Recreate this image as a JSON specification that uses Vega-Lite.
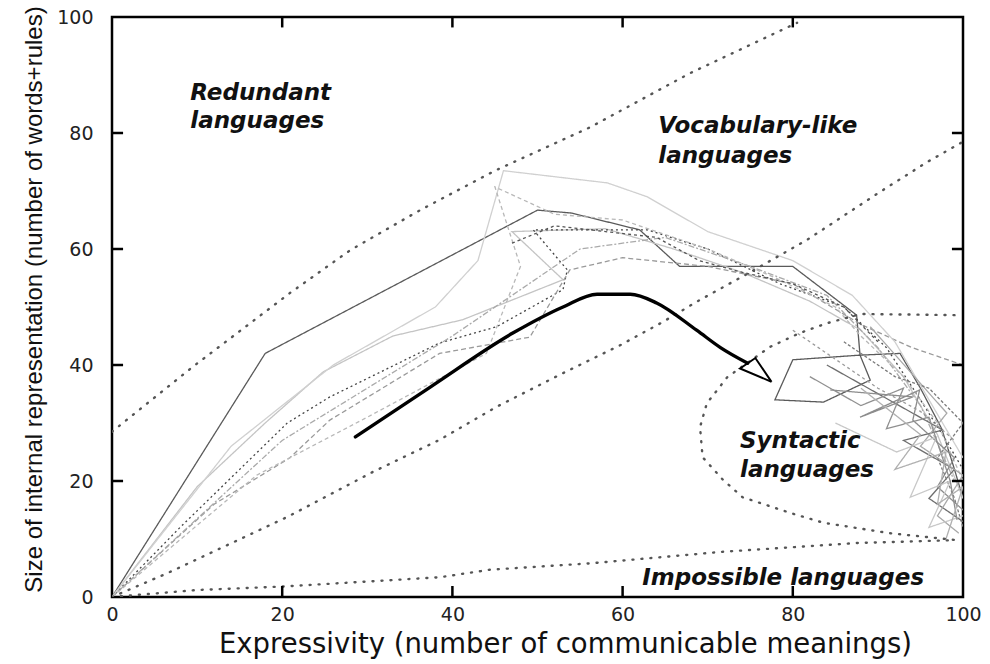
{
  "$schema": "https://vega.github.io/schema/vega-lite/v6.json",
  "width": 851,
  "height": 580,
  "autosize": {"type": "none"},
  "padding": {"left": 112, "top": 17, "right": 27, "bottom": 67},
  "background": "white",
  "config": {"view": {"stroke": "#000", "strokeWidth": 2.5}},
  "datasets": {
    "traj": [
      {"s":"t1","i":0,"x":0,"y":0},{"s":"t1","i":1,"x":18,"y":42},{"s":"t1","i":2,"x":50,"y":66.7},{"s":"t1","i":3,"x":54,"y":66.2},{"s":"t1","i":4,"x":62,"y":63.3},{"s":"t1","i":5,"x":66.7,"y":57},{"s":"t1","i":6,"x":80,"y":57},{"s":"t1","i":7,"x":87.5,"y":48.6},{"s":"t1","i":8,"x":87.9,"y":41.7},{"s":"t1","i":9,"x":80,"y":40.9},{"s":"t1","i":10,"x":77.9,"y":34},{"s":"t1","i":11,"x":83.6,"y":33.6},{"s":"t1","i":12,"x":89.1,"y":37.4},{"s":"t1","i":13,"x":87.9,"y":41.7},{"s":"t1","i":14,"x":92.6,"y":42},{"s":"t1","i":15,"x":95,"y":36},{"s":"t1","i":16,"x":97.5,"y":29},{"s":"t1","i":17,"x":99,"y":22},{"s":"t1","i":18,"x":100,"y":17},
      {"s":"t2","i":0,"x":0,"y":0},{"s":"t2","i":1,"x":10,"y":19},{"s":"t2","i":2,"x":18,"y":30},{"s":"t2","i":3,"x":24.8,"y":38.8},{"s":"t2","i":4,"x":33,"y":45},{"s":"t2","i":5,"x":41.2,"y":47.8},{"s":"t2","i":6,"x":53,"y":54.7},{"s":"t2","i":7,"x":47,"y":63},{"s":"t2","i":8,"x":58,"y":63.5},{"s":"t2","i":9,"x":66,"y":60},{"s":"t2","i":10,"x":74,"y":56},{"s":"t2","i":11,"x":82,"y":51},{"s":"t2","i":12,"x":88,"y":46},{"s":"t2","i":13,"x":93,"y":38},{"s":"t2","i":14,"x":97,"y":28},{"s":"t2","i":15,"x":100,"y":17},
      {"s":"t3","i":0,"x":0,"y":0},{"s":"t3","i":1,"x":8,"y":12},{"s":"t3","i":2,"x":20.6,"y":30},{"s":"t3","i":3,"x":25.6,"y":34.5},{"s":"t3","i":4,"x":38.5,"y":43.8},{"s":"t3","i":5,"x":45.2,"y":46.6},{"s":"t3","i":6,"x":53,"y":53},{"s":"t3","i":7,"x":53.5,"y":56.4},{"s":"t3","i":8,"x":49.5,"y":63.3},{"s":"t3","i":9,"x":62.9,"y":63.3},{"s":"t3","i":10,"x":70,"y":60},{"s":"t3","i":11,"x":78.5,"y":54},{"s":"t3","i":12,"x":86,"y":50},{"s":"t3","i":13,"x":91,"y":43},{"s":"t3","i":14,"x":95,"y":34},{"s":"t3","i":15,"x":98,"y":27},{"s":"t3","i":16,"x":100,"y":22},
      {"s":"t4","i":0,"x":0,"y":0},{"s":"t4","i":1,"x":12,"y":16},{"s":"t4","i":2,"x":20.9,"y":24},{"s":"t4","i":3,"x":25.6,"y":30.5},{"s":"t4","i":4,"x":38.5,"y":42},{"s":"t4","i":5,"x":49.1,"y":44.8},{"s":"t4","i":6,"x":53.8,"y":56.4},{"s":"t4","i":7,"x":60,"y":58.5},{"s":"t4","i":8,"x":70,"y":57},{"s":"t4","i":9,"x":80,"y":54},{"s":"t4","i":10,"x":88,"y":47},{"s":"t4","i":11,"x":94,"y":43},{"s":"t4","i":12,"x":100,"y":40},
      {"s":"t5","i":0,"x":0,"y":0},{"s":"t5","i":1,"x":14,"y":26},{"s":"t5","i":2,"x":26,"y":40},{"s":"t5","i":3,"x":38,"y":50},{"s":"t5","i":4,"x":43,"y":58},{"s":"t5","i":5,"x":46,"y":73.5},{"s":"t5","i":6,"x":58.2,"y":71.4},{"s":"t5","i":7,"x":62.9,"y":69},{"s":"t5","i":8,"x":70,"y":63},{"s":"t5","i":9,"x":80,"y":58},{"s":"t5","i":10,"x":87,"y":52},{"s":"t5","i":11,"x":92,"y":44},{"s":"t5","i":12,"x":96,"y":34},{"s":"t5","i":13,"x":100,"y":24},
      {"s":"t6","i":0,"x":0,"y":0},{"s":"t6","i":1,"x":20,"y":27},{"s":"t6","i":2,"x":30,"y":36},{"s":"t6","i":3,"x":40,"y":45},{"s":"t6","i":4,"x":47,"y":52},{"s":"t6","i":5,"x":55,"y":60},{"s":"t6","i":6,"x":65,"y":62},{"s":"t6","i":7,"x":75,"y":57},{"s":"t6","i":8,"x":84,"y":52},{"s":"t6","i":9,"x":90,"y":43},{"s":"t6","i":10,"x":95,"y":33},{"s":"t6","i":11,"x":99,"y":20},
      {"s":"t7","i":0,"x":0,"y":0},{"s":"t7","i":1,"x":17,"y":21},{"s":"t7","i":2,"x":30,"y":31},{"s":"t7","i":3,"x":44,"y":42},{"s":"t7","i":4,"x":48,"y":57},{"s":"t7","i":5,"x":45,"y":70.7},{"s":"t7","i":6,"x":52,"y":66},{"s":"t7","i":7,"x":60,"y":65},{"s":"t7","i":8,"x":70,"y":60},{"s":"t7","i":9,"x":78,"y":55},{"s":"t7","i":10,"x":85,"y":50},{"s":"t7","i":11,"x":88,"y":45},{"s":"t7","i":12,"x":93,"y":38},{"s":"t7","i":13,"x":97,"y":30},{"s":"t7","i":14,"x":100,"y":20},
      {"s":"t14","i":0,"x":47,"y":61},{"s":"t14","i":1,"x":52,"y":64},{"s":"t14","i":2,"x":58,"y":63},{"s":"t14","i":3,"x":64,"y":62},{"s":"t14","i":4,"x":69,"y":58},{"s":"t14","i":5,"x":74,"y":56},{"s":"t14","i":6,"x":80,"y":54},{"s":"t14","i":7,"x":86,"y":50},{"s":"t14","i":8,"x":90,"y":44},
      {"s":"t8","i":0,"x":84,"y":40},{"s":"t8","i":1,"x":97.6,"y":28.8},{"s":"t8","i":2,"x":93,"y":27},{"s":"t8","i":3,"x":99,"y":22},{"s":"t8","i":4,"x":96,"y":17},{"s":"t8","i":5,"x":100,"y":13},
      {"s":"t9","i":0,"x":84.4,"y":35.7},{"s":"t9","i":1,"x":94.1,"y":34.5},{"s":"t9","i":2,"x":87.9,"y":31},{"s":"t9","i":3,"x":94.9,"y":35.7},{"s":"t9","i":4,"x":94.1,"y":30.5},{"s":"t9","i":5,"x":99,"y":24},{"s":"t9","i":6,"x":97,"y":19},{"s":"t9","i":7,"x":100,"y":15},
      {"s":"t10","i":0,"x":89.1,"y":46.6},{"s":"t10","i":1,"x":98.1,"y":31.7},{"s":"t10","i":2,"x":95,"y":26},{"s":"t10","i":3,"x":100,"y":21},{"s":"t10","i":4,"x":97,"y":14},{"s":"t10","i":5,"x":99.5,"y":11},
      {"s":"t11","i":0,"x":86,"y":44},{"s":"t11","i":1,"x":92,"y":38},{"s":"t11","i":2,"x":96,"y":36},{"s":"t11","i":3,"x":100,"y":30},{"s":"t11","i":4,"x":97,"y":24},{"s":"t11","i":5,"x":99,"y":17},{"s":"t11","i":6,"x":100,"y":12},
      {"s":"t12","i":0,"x":85,"y":30},{"s":"t12","i":1,"x":92.2,"y":25},{"s":"t12","i":2,"x":96.9,"y":27.6},{"s":"t12","i":3,"x":93.8,"y":17.2},{"s":"t12","i":4,"x":98.5,"y":20},{"s":"t12","i":5,"x":96,"y":12},{"s":"t12","i":6,"x":100,"y":14},
      {"s":"t13","i":0,"x":82,"y":38},{"s":"t13","i":1,"x":88,"y":33},{"s":"t13","i":2,"x":93,"y":36},{"s":"t13","i":3,"x":91,"y":29},{"s":"t13","i":4,"x":96,"y":31},{"s":"t13","i":5,"x":98.5,"y":20},{"s":"t13","i":6,"x":99.3,"y":13.3},
      {"s":"t15","i":0,"x":88,"y":36},{"s":"t15","i":1,"x":95,"y":28},{"s":"t15","i":2,"x":92,"y":22},{"s":"t15","i":3,"x":98,"y":25},{"s":"t15","i":4,"x":97,"y":16},{"s":"t15","i":5,"x":100,"y":19},{"s":"t15","i":6,"x":98,"y":10},
      {"s":"t16","i":0,"x":80,"y":46},{"s":"t16","i":1,"x":86,"y":40},{"s":"t16","i":2,"x":90,"y":36},{"s":"t16","i":3,"x":95,"y":32},{"s":"t16","i":4,"x":99,"y":27}
    ],
    "bound": [
      {"s":"b1","i":0,"x":0,"y":28.5},{"s":"b1","i":1,"x":9.5,"y":39.7},{"s":"b1","i":2,"x":20.9,"y":52.4},{"s":"b1","i":3,"x":28,"y":59.8},{"s":"b1","i":4,"x":36.2,"y":66.7},{"s":"b1","i":5,"x":45,"y":73.5},{"s":"b1","i":6,"x":56.2,"y":81},{"s":"b1","i":7,"x":67.9,"y":90.3},{"s":"b1","i":8,"x":80.5,"y":99},
      {"s":"b2","i":0,"x":0,"y":0},{"s":"b2","i":1,"x":6.5,"y":4.1},{"s":"b2","i":2,"x":20.6,"y":13.8},{"s":"b2","i":3,"x":30.7,"y":21.6},{"s":"b2","i":4,"x":38.5,"y":27.1},{"s":"b2","i":5,"x":45.2,"y":32.8},{"s":"b2","i":6,"x":53,"y":38.6},{"s":"b2","i":7,"x":59.7,"y":43.4},{"s":"b2","i":8,"x":64.7,"y":47.4},{"s":"b2","i":9,"x":68.7,"y":50.9},{"s":"b2","i":10,"x":75,"y":56},{"s":"b2","i":11,"x":81.7,"y":61.6},{"s":"b2","i":12,"x":90.2,"y":69.8},{"s":"b2","i":13,"x":95.8,"y":75},{"s":"b2","i":14,"x":100,"y":78.5},
      {"s":"b3","i":0,"x":0,"y":0},{"s":"b3","i":1,"x":10,"y":1.2},{"s":"b3","i":2,"x":20,"y":1.8},{"s":"b3","i":3,"x":38.5,"y":3.4},{"s":"b3","i":4,"x":44.4,"y":4.7},{"s":"b3","i":5,"x":56.2,"y":5.8},{"s":"b3","i":6,"x":71.8,"y":7.8},{"s":"b3","i":7,"x":87.5,"y":9.3},{"s":"b3","i":8,"x":99,"y":9.8},
      {"s":"b4","i":0,"x":99,"y":48.6},{"s":"b4","i":1,"x":88,"y":48.8},{"s":"b4","i":2,"x":84,"y":47.2},{"s":"b4","i":3,"x":80.8,"y":45.5},{"s":"b4","i":4,"x":77.3,"y":43.1},{"s":"b4","i":5,"x":72.3,"y":37.9},{"s":"b4","i":6,"x":69.9,"y":33.4},{"s":"b4","i":7,"x":69.1,"y":29.3},{"s":"b4","i":8,"x":69.4,"y":24.1},{"s":"b4","i":9,"x":71.8,"y":20.2},{"s":"b4","i":10,"x":74.1,"y":17.2},{"s":"b4","i":11,"x":79.7,"y":14.5},{"s":"b4","i":12,"x":83.6,"y":12.8},{"s":"b4","i":13,"x":91.4,"y":11},{"s":"b4","i":14,"x":99.3,"y":9.8}
    ],
    "shaft": [
      {"i":0,"x":28.6,"y":27.6},{"i":1,"x":37.4,"y":36.2},{"i":2,"x":47.1,"y":45.5},{"i":3,"x":53,"y":50},{"i":4,"x":57,"y":52.2},{"i":5,"x":60.9,"y":52.2},{"i":6,"x":64,"y":50.7},{"i":7,"x":68.7,"y":46},{"i":8,"x":71.5,"y":43},{"i":9,"x":74.7,"y":40.3}
    ],
    "head": [
      {"i":0,"x":77.5,"y":37.1},{"i":1,"x":73.8,"y":39.4},{"i":2,"x":75.6,"y":41.2},{"i":3,"x":77.5,"y":37.1}
    ],
    "ticks": [{"v":20},{"v":40},{"v":60},{"v":80}],
    "labels": [
      {"t":"Redundant","x":9.2,"y":85.7},
      {"t":"languages","x":9.2,"y":80.9},
      {"t":"Vocabulary-like","x":64.2,"y":80},
      {"t":"languages","x":64.2,"y":74.8},
      {"t":"Syntactic","x":73.8,"y":25.7},
      {"t":"languages","x":73.8,"y":20.7},
      {"t":"Impossible languages","x":62.3,"y":2.1}
    ]
  },
  "layer": [
    {
      "data": {"name": "traj"},
      "mark": {"type": "line", "clip": true},
      "encoding": {
        "x": {"field": "x", "type": "quantitative", "scale": {"domain": [0, 100], "nice": false, "zero": false},
          "axis": {"values": [0,20,40,60,80,100], "domain": false, "grid": false, "ticks": false,
            "labelFont": "DejaVu Sans", "labelFontSize": 19, "labelColor": "#222", "labelPadding": 8, "labelFlush": false,
            "title": "Expressivity (number of communicable meanings)",
            "titleFont": "DejaVu Sans", "titleFontSize": 27.5, "titleFontWeight": "normal", "titleColor": "#111",
            "titleAnchor": null, "titleAlign": "center", "titleBaseline": "alphabetic", "titleX": 453, "titleY": 55}},
        "y": {"field": "y", "type": "quantitative", "scale": {"domain": [0, 100], "nice": false, "zero": false},
          "axis": {"values": [0,20,40,60,80,100], "domain": false, "grid": false, "ticks": false,
            "labelFont": "DejaVu Sans", "labelFontSize": 19, "labelColor": "#222", "labelPadding": 19, "labelFlush": false,
            "title": "Size of internal representation (number of words+rules)",
            "titleFont": "Liberation Sans", "titleFontSize": 24, "titleFontWeight": "normal", "titleColor": "#111",
            "titleAnchor": null, "titleAngle": 270, "titleAlign": "center", "titleBaseline": "alphabetic", "titleX": -71, "titleY": 282}},
        "order": {"field": "i", "type": "quantitative"},
        "color": {"field": "s", "type": "nominal", "legend": null,
          "scale": {"domain": ["t1","t2","t3","t4","t5","t6","t7","t14","t8","t9","t10","t11","t12","t13","t15","t16"],
                    "range": ["#5a5a5a","#c4c4c4","#444444","#9a9a9a","#d0d0d0","#aaaaaa","#b8b8b8","#555555","#6e6e6e","#8c8c8c","#a8a8a8","#7a7a7a","#c8c8c8","#909090","#b0b0b0","#9a9a9a"]}},
        "strokeDash": {"field": "s", "type": "nominal", "legend": null,
          "scale": {"domain": ["t1","t2","t3","t4","t5","t6","t7","t14","t8","t9","t10","t11","t12","t13","t15","t16"],
                    "range": [[1,0],[1,0],[2,3],[5,3],[1,0],[6,2,2,2],[4,3],[3,3],[1,0],[1,0],[1,0],[3,2],[1,0],[1,0],[1,0],[3,3]]}},
        "strokeWidth": {"value": 1.3}
      }
    },
    {
      "data": {"name": "bound"},
      "mark": {"type": "line", "clip": true, "color": "#555555", "strokeWidth": 2.4, "strokeDash": [1, 8], "strokeCap": "round"},
      "encoding": {
        "x": {"field": "x", "type": "quantitative"},
        "y": {"field": "y", "type": "quantitative"},
        "detail": {"field": "s", "type": "nominal"},
        "order": {"field": "i", "type": "quantitative"}
      }
    },
    {
      "data": {"name": "shaft"},
      "mark": {"type": "line", "color": "#000", "strokeWidth": 3.4, "interpolate": "monotone", "strokeCap": "round"},
      "encoding": {
        "x": {"field": "x", "type": "quantitative"},
        "y": {"field": "y", "type": "quantitative"},
        "order": {"field": "i", "type": "quantitative"}
      }
    },
    {
      "data": {"name": "head"},
      "mark": {"type": "line", "color": "#000", "strokeWidth": 2, "strokeJoin": "miter"},
      "encoding": {
        "x": {"field": "x", "type": "quantitative"},
        "y": {"field": "y", "type": "quantitative"},
        "order": {"field": "i", "type": "quantitative"}
      }
    },
    {
      "data": {"name": "ticks"},
      "mark": {"type": "rule", "color": "#000", "strokeWidth": 2.5},
      "encoding": {"x": {"field": "v", "type": "quantitative"}, "y": {"datum": 0}, "y2": {"datum": 1.9}}
    },
    {
      "data": {"name": "ticks"},
      "mark": {"type": "rule", "color": "#000", "strokeWidth": 2.5},
      "encoding": {"x": {"field": "v", "type": "quantitative"}, "y": {"datum": 98.2}, "y2": {"datum": 100}}
    },
    {
      "data": {"name": "ticks"},
      "mark": {"type": "rule", "color": "#000", "strokeWidth": 2.5},
      "encoding": {"y": {"field": "v", "type": "quantitative"}, "x": {"datum": 0}, "x2": {"datum": 1.3}}
    },
    {
      "data": {"name": "ticks"},
      "mark": {"type": "rule", "color": "#000", "strokeWidth": 2.5},
      "encoding": {"y": {"field": "v", "type": "quantitative"}, "x": {"datum": 98.7}, "x2": {"datum": 100}}
    },
    {
      "data": {"name": "labels"},
      "mark": {"type": "text", "font": "DejaVu Sans", "fontSize": 23, "fontWeight": "bold", "fontStyle": "italic", "align": "left", "baseline": "alphabetic", "color": "#111"},
      "encoding": {
        "x": {"field": "x", "type": "quantitative"},
        "y": {"field": "y", "type": "quantitative"},
        "text": {"field": "t", "type": "nominal"}
      }
    }
  ]
}
